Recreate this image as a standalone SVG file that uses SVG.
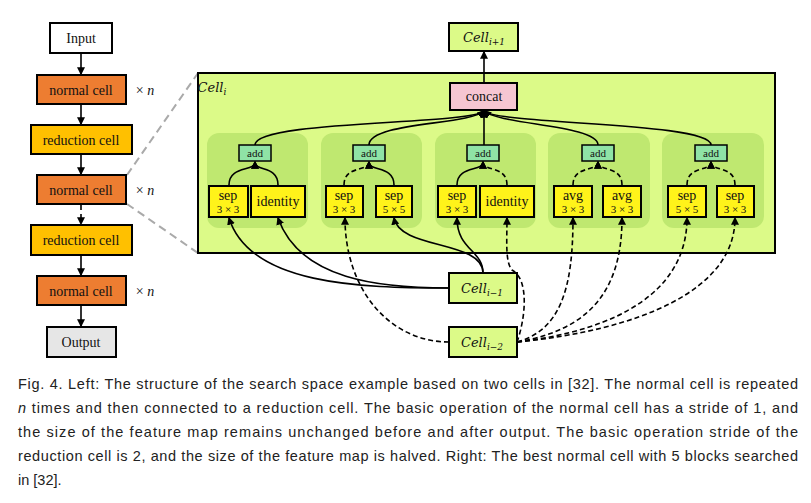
<svg xmlns="http://www.w3.org/2000/svg" width="811" height="503" viewBox="0 0 811 503">
<defs>
<marker id="ah" viewBox="0 0 6 6" refX="5" refY="3" markerWidth="5" markerHeight="5" orient="auto"><path d="M0,0 L6,3 L0,6 z" fill="#000"/></marker>
<style>
.b{stroke:#000;stroke-width:2}
.t{font-family:"Liberation Serif",serif;font-size:14px;text-anchor:middle;fill:#111}
.s{font-family:"Liberation Serif",serif;font-size:11px;text-anchor:middle;fill:#111}
.m{font-family:"DejaVu Serif","Liberation Serif",serif;font-style:italic;font-size:13px;text-anchor:middle;fill:#111}
.e{fill:none;stroke:#000;stroke-width:1.6}
.d{stroke-dasharray:5,3}
.op{fill:#FFF31A;stroke:#000;stroke-width:2}
.add{fill:#8FE3A6;stroke:#000;stroke-width:1.5}
.g{fill:#BFE870}
.cap{font-family:"Liberation Sans",sans-serif;font-size:14.5px;fill:#222}
</style>
</defs>
<rect width="811" height="503" fill="#fff"/>
<g id="zoomlines" stroke="#aaa" stroke-width="2" stroke-dasharray="8,5" fill="none">
<line x1="127" y1="175" x2="198" y2="73"/><line x1="127" y1="204" x2="198" y2="253"/>
</g>
<g id="left">
<g id="input"><rect x="50" y="23" width="62" height="30" fill="#fff" class="b"/><text x="81" y="43" class="t">Input</text></g>
<g id="n1"><rect x="37" y="75" width="89" height="29" fill="#ED7D31" class="b"/><text x="81" y="95" class="t">normal cell</text><text x="145" y="95" class="t">× <tspan font-style="italic">n</tspan></text></g>
<g id="r1"><rect x="31" y="125" width="101" height="29" fill="#FFC000" class="b"/><text x="81" y="145" class="t">reduction cell</text></g>
<g id="n2"><rect x="37" y="175" width="89" height="29" fill="#ED7D31" class="b"/><text x="81" y="195" class="t">normal cell</text><text x="145" y="195" class="t">× <tspan font-style="italic">n</tspan></text></g>
<g id="r2"><rect x="31" y="225" width="101" height="30" fill="#FFC000" class="b"/><text x="81" y="245" class="t">reduction cell</text></g>
<g id="n3"><rect x="37" y="276" width="89" height="29" fill="#ED7D31" class="b"/><text x="81" y="296" class="t">normal cell</text><text x="145" y="296" class="t">× <tspan font-style="italic">n</tspan></text></g>
<g id="output"><rect x="47" y="327" width="69" height="30" fill="#E6E6E6" class="b"/><text x="81" y="347" class="t">Output</text></g>
</g>
<g id="leftedges" class="e" marker-end="url(#ah)">
<line x1="81" y1="53" x2="81" y2="74"/><line x1="81" y1="104" x2="81" y2="124"/><line x1="81" y1="154" x2="81" y2="174"/>
<line x1="81" y1="204" x2="81" y2="224" stroke-dasharray="6,4"/><line x1="81" y1="255" x2="81" y2="275"/><line x1="81" y1="305" x2="81" y2="326"/>
</g>
<g id="celli"><rect x="198" y="73" width="577" height="180" fill="#DCFA88" class="b"/><text x="212" y="92" class="m" text-anchor="start">Cell<tspan font-size="9" dy="3">i</tspan></text></g>
<g id="groups">
<rect class="g" x="207" y="133" width="101" height="95" rx="12"/>
<rect class="g" x="321" y="133" width="101" height="95" rx="12"/>
<rect class="g" x="435" y="133" width="101" height="95" rx="12"/>
<rect class="g" x="548" y="133" width="102" height="95" rx="12"/>
<rect class="g" x="662" y="133" width="102" height="95" rx="12"/>
</g>
<g id="connectors" class="e">
<g marker-end="url(#ah)">
<line x1="484" y1="83" x2="484" y2="52"/>
<path d="M255,145 C255,120 470,125 484,111"/>
<path d="M369,145 C369,122 470,125 484,111"/>
<path d="M484,145 L484,111"/>
<path d="M598,145 C598,125 500,125 484,111"/>
<path d="M711,145 C711,122 500,125 484,111"/>
<path d="M229,185 C229,165 255,172 255,162"/>
<path d="M278,185 C278,165 255,172 255,162"/>
<path d="M344,185 C344,165 369,172 369,162" class="d"/>
<path d="M394,185 C394,165 369,172 369,162"/>
<path d="M457,185 C457,165 483,172 483,162"/>
<path d="M507,185 C507,165 483,172 483,162" class="d"/>
<path d="M573,185 C573,165 598,172 598,162" class="d"/>
<path d="M622,185 C622,165 598,172 598,162" class="d"/>
<path d="M687,185 C687,165 711,172 711,162" class="d"/>
<path d="M735,185 C735,165 711,172 711,162" class="d"/>
<path d="M449,288 C360,288 250,285 229,218"/>
<path d="M449,288 C380,288 300,280 278,218"/>
<path d="M483,273 C483,240 400,250 394,218"/>
<path d="M483,273 C483,250 457,250 457,218"/>
<path d="M449,342 C390,342 345,290 345,218" class="d"/>
<path d="M517,342 C525,320 530,280 512,270 C505,262 507,240 507,218" class="d"/>
<path d="M517,342 C560,330 573,290 573,218" class="d"/>
<path d="M517,342 C590,330 622,290 622,218" class="d"/>
<path d="M517,342 C620,330 687,290 687,218" class="d"/>
<path d="M517,342 C640,330 735,290 735,218" class="d"/>
</g>
</g>
<g id="concat"><rect x="450" y="83" width="67" height="27" fill="#F6C6D2" class="b"/><text x="484" y="101" class="t">concat</text></g>
<g id="cellip1"><rect x="449" y="23" width="69" height="28" fill="#DCFA88" class="b"/><text x="484" y="42" class="m">Cell<tspan font-size="9" dy="3">i+1</tspan></text></g>
<g id="cellim1"><rect x="449" y="273" width="68" height="30" fill="#DCFA88" class="b"/><text x="482" y="293" class="m">Cell<tspan font-size="9" dy="3">i−1</tspan></text></g>
<g id="cellim2"><rect x="449" y="327" width="68" height="30" fill="#DCFA88" class="b"/><text x="482" y="347" class="m">Cell<tspan font-size="9" dy="3">i−2</tspan></text></g>
<g id="adds">
<g id="add1"><rect class="add" x="239" y="145" width="32" height="16"/><text x="255" y="157" class="s">add</text></g>
<g id="add2"><rect class="add" x="353" y="145" width="32" height="16"/><text x="369" y="157" class="s">add</text></g>
<g id="add3"><rect class="add" x="467" y="145" width="32" height="16"/><text x="483" y="157" class="s">add</text></g>
<g id="add4"><rect class="add" x="582" y="145" width="32" height="16"/><text x="598" y="157" class="s">add</text></g>
<g id="add5"><rect class="add" x="695" y="145" width="32" height="16"/><text x="711" y="157" class="s">add</text></g>
</g>
<g id="ops">
<g id="op1"><rect class="op" x="209" y="186" width="39" height="31"/><text x="228" y="200" class="t">sep</text><text x="228" y="213" class="s" font-family="Liberation Sans" font-size="9">3 × 3</text></g>
<g id="op2"><rect class="op" x="251" y="186" width="54" height="31"/><text x="278" y="206" class="t">identity</text></g>
<g id="op3"><rect class="op" x="326" y="186" width="37" height="31"/><text x="344" y="200" class="t">sep</text><text x="344" y="213" class="s" font-size="9">3 × 3</text></g>
<g id="op4"><rect class="op" x="376" y="186" width="36" height="31"/><text x="394" y="200" class="t">sep</text><text x="394" y="213" class="s" font-size="9">5 × 5</text></g>
<g id="op5"><rect class="op" x="438" y="186" width="38" height="31"/><text x="457" y="200" class="t">sep</text><text x="457" y="213" class="s" font-size="9">3 × 3</text></g>
<g id="op6"><rect class="op" x="480" y="186" width="54" height="31"/><text x="507" y="206" class="t">identity</text></g>
<g id="op7"><rect class="op" x="554" y="186" width="38" height="31"/><text x="573" y="200" class="t">avg</text><text x="573" y="213" class="s" font-size="9">3 × 3</text></g>
<g id="op8"><rect class="op" x="603" y="186" width="38" height="31"/><text x="622" y="200" class="t">avg</text><text x="622" y="213" class="s" font-size="9">3 × 3</text></g>
<g id="op9"><rect class="op" x="668" y="186" width="38" height="31"/><text x="687" y="200" class="t">sep</text><text x="687" y="213" class="s" font-size="9">5 × 5</text></g>
<g id="op10"><rect class="op" x="717" y="186" width="37" height="31"/><text x="735" y="200" class="t">sep</text><text x="735" y="213" class="s" font-size="9">3 × 3</text></g>
</g>
<g id="caption" class="cap">
<text x="18" y="389" textLength="780" lengthAdjust="spacing">Fig. 4.  Left: The structure of the search space example based on two cells in [32]. The normal cell is repeated</text>
<text x="18" y="413" textLength="780" lengthAdjust="spacing"><tspan font-style="italic">n</tspan> times and then connected to a reduction cell. The basic operation of the normal cell has a stride of 1, and</text>
<text x="18" y="437" textLength="780" lengthAdjust="spacing">the size of the feature map remains unchanged before and after output. The basic operation stride of the</text>
<text x="18" y="461" textLength="780" lengthAdjust="spacing">reduction cell is 2, and the size of the feature map is halved. Right: The best normal cell with 5 blocks searched</text>
<text x="18" y="485">in [32].</text>
</g>
</svg>
